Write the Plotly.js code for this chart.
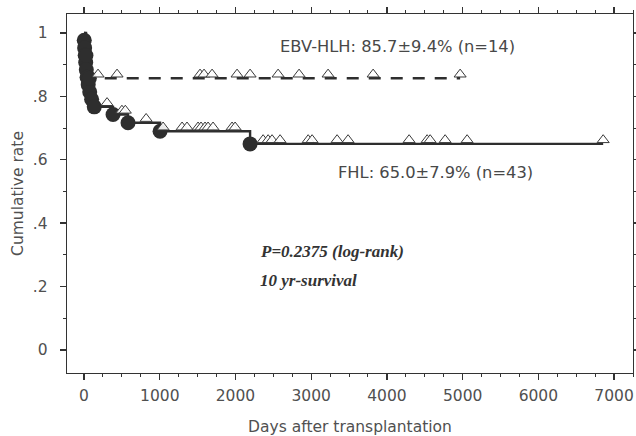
<!DOCTYPE html>
<html>
<head>
<meta charset="utf-8">
<script src="https://cdn.plot.ly/plotly-3.0.1.min.js"></script>
<style>html,body{margin:0;padding:0;background:#fff;}#chart{width:636px;height:436px;}</style>
</head>
<body>
<div id="chart"></div>
<script>
// FHL (n=43): event (death) times in days and survival after each event
const fhlDeathDays = [3, 8, 15, 22, 30, 40, 55, 75, 100, 135, 383, 581, 1004, 2193];
const fhlDeathSurv = [0.977, 0.953, 0.930, 0.907, 0.884, 0.860, 0.837, 0.814, 0.791, 0.767, 0.743, 0.717, 0.690, 0.650];
const fhlCensorDays = [304, 500, 545, 820, 1044, 1295, 1360, 1506, 1545, 1598, 1638, 1704, 1955, 1995,
  2365, 2431, 2483, 2589, 2960, 3012, 3342, 3487, 4293, 4531, 4571, 4769, 5059, 6856];
const fhlLastDay = 6856;

// EBV-HLH (n=14)
const ebvDeathDays = [25, 70];
const ebvDeathSurv = [0.929, 0.857];
const ebvCensorDays = [185, 436, 1532, 1585, 1691, 2021, 2193, 2563, 2840, 3223, 3818, 4967];
const ebvLastDay = 4967;

const xTickVals = [0, 1000, 2000, 3000, 4000, 5000, 6000, 7000];
const yTickVals = [0, 0.2, 0.4, 0.6, 0.8, 1];
const yTickText = ['0', '.2', '.4', '.6', '.8', '1'];

const labelEBV = 'EBV-HLH: 85.7\u00B19.4% (n=14)';
const labelFHL = 'FHL: 65.0\u00B17.9% (n=43)';
const labelP = 'P=0.2375 (log-rank)';
const labelYr = '10 yr-survival';

function stepLine(deathDays, deathSurv, lastDay) {
  return { x: [0].concat(deathDays, [lastDay]), y: [1].concat(deathSurv, [deathSurv[deathSurv.length - 1]]) };
}
function survAt(t, deathDays, deathSurv) {
  let s = 1;
  for (let i = 0; i < deathDays.length; i++) if (deathDays[i] <= t) s = deathSurv[i];
  return s;
}

const ink = '#2e2e2e';
const fhlLine = stepLine(fhlDeathDays, fhlDeathSurv, fhlLastDay);
const ebvLine = stepLine(ebvDeathDays, ebvDeathSurv, ebvLastDay);

const yr = [-0.073, 1.06];
const shift = 0.0125; // raise open triangles so they sit on the line

const traces = [
  { x: ebvLine.x, y: ebvLine.y, mode: 'lines', line: { shape: 'hv', color: ink, width: 2.6, dash: '12px,10px' }, hoverinfo: 'skip' },
  { x: fhlLine.x, y: fhlLine.y, mode: 'lines', line: { shape: 'hv', color: ink, width: 2.4 }, hoverinfo: 'skip' },
  { x: ebvCensorDays, y: ebvCensorDays.map(t => survAt(t, ebvDeathDays, ebvDeathSurv)), yaxis: 'y2', mode: 'markers',
    marker: { symbol: 'triangle-up', size: 10.5, color: 'rgba(255,255,255,0.9)', line: { color: '#3a3a3a', width: 1 } } },
  { x: fhlCensorDays, y: fhlCensorDays.map(t => survAt(t, fhlDeathDays, fhlDeathSurv)), yaxis: 'y2', mode: 'markers',
    marker: { symbol: 'triangle-up', size: 10.5, color: 'rgba(255,255,255,0.9)', line: { color: '#3a3a3a', width: 1 } } },
  { x: fhlDeathDays, y: fhlDeathSurv, mode: 'markers', marker: { symbol: 'circle', size: 15, color: ink, line: { width: 0 } } },
  { x: ebvDeathDays, y: ebvDeathSurv, mode: 'markers', marker: { symbol: 'circle', size: 15, color: ink, line: { width: 0 } } }
];

const axisFont = { family: 'DejaVu Sans, Verdana, sans-serif', size: 15.5, color: '#505050' };

const layout = {
  width: 636, height: 436,
  margin: { l: 67, r: 3, t: 14, b: 63 },
  paper_bgcolor: '#fff', plot_bgcolor: '#fff',
  showlegend: false,
  font: axisFont,
  xaxis: {
    range: [-225, 7250], tickvals: xTickVals, ticktext: xTickVals.map(String),
    showline: true, linecolor: '#333', linewidth: 1.3, mirror: 'ticks',
    ticks: 'outside', ticklen: 6, tickwidth: 1.3, tickcolor: '#333',
    minor: { dtick: 250, tick0: 0, ticks: 'outside', ticklen: 3, tickwidth: 1, tickcolor: '#333' },
    showgrid: false, zeroline: false, tickfont: axisFont, ticklabelstandoff: 2,
    title: { text: 'Days after transplantation', font: axisFont, standoff: 18 }
  },
  yaxis: {
    range: yr, tickvals: yTickVals, ticktext: yTickText,
    showline: true, linecolor: '#333', linewidth: 1.3, mirror: 'ticks',
    ticks: 'outside', ticklen: 6, tickwidth: 1.3, tickcolor: '#333',
    minor: { dtick: 0.1, tick0: 0, ticks: 'outside', ticklen: 3, tickwidth: 1, tickcolor: '#333' },
    showgrid: false, zeroline: false, tickfont: axisFont, ticklabelstandoff: 9,
    title: { text: 'Cumulative rate', font: axisFont, standoff: 5 }
  },
  yaxis2: { overlaying: 'y', range: [yr[0] - shift, yr[1] - shift], visible: false },
  annotations: [
    { text: labelEBV, xref: 'x', yref: 'y', x: 2563, y: 0.956, xanchor: 'left', yanchor: 'middle', showarrow: false,
      font: { family: 'DejaVu Sans, Verdana, sans-serif', size: 16.3, color: '#484848' } },
    { text: labelFHL, xref: 'x', yref: 'y', x: 3329, y: 0.561, xanchor: 'left', yanchor: 'middle', showarrow: false,
      font: { family: 'DejaVu Sans, Verdana, sans-serif', size: 16.3, color: '#484848' } },
    { text: '<b><i>' + labelP + '</i></b>', xref: 'x', yref: 'y', x: 2299, y: 0.309, xanchor: 'left', yanchor: 'middle', showarrow: false,
      font: { family: 'Liberation Serif, Times New Roman, serif', size: 17, color: '#333' } },
    { text: '<b><i>' + labelYr + '</i></b>', xref: 'x', yref: 'y', x: 2299, y: 0.218, xanchor: 'left', yanchor: 'middle', showarrow: false,
      font: { family: 'Liberation Serif, Times New Roman, serif', size: 17, color: '#333' } }
  ]
};

Plotly.newPlot('chart', traces, layout, { displayModeBar: false, staticPlot: true });
</script>
</body>
</html>
